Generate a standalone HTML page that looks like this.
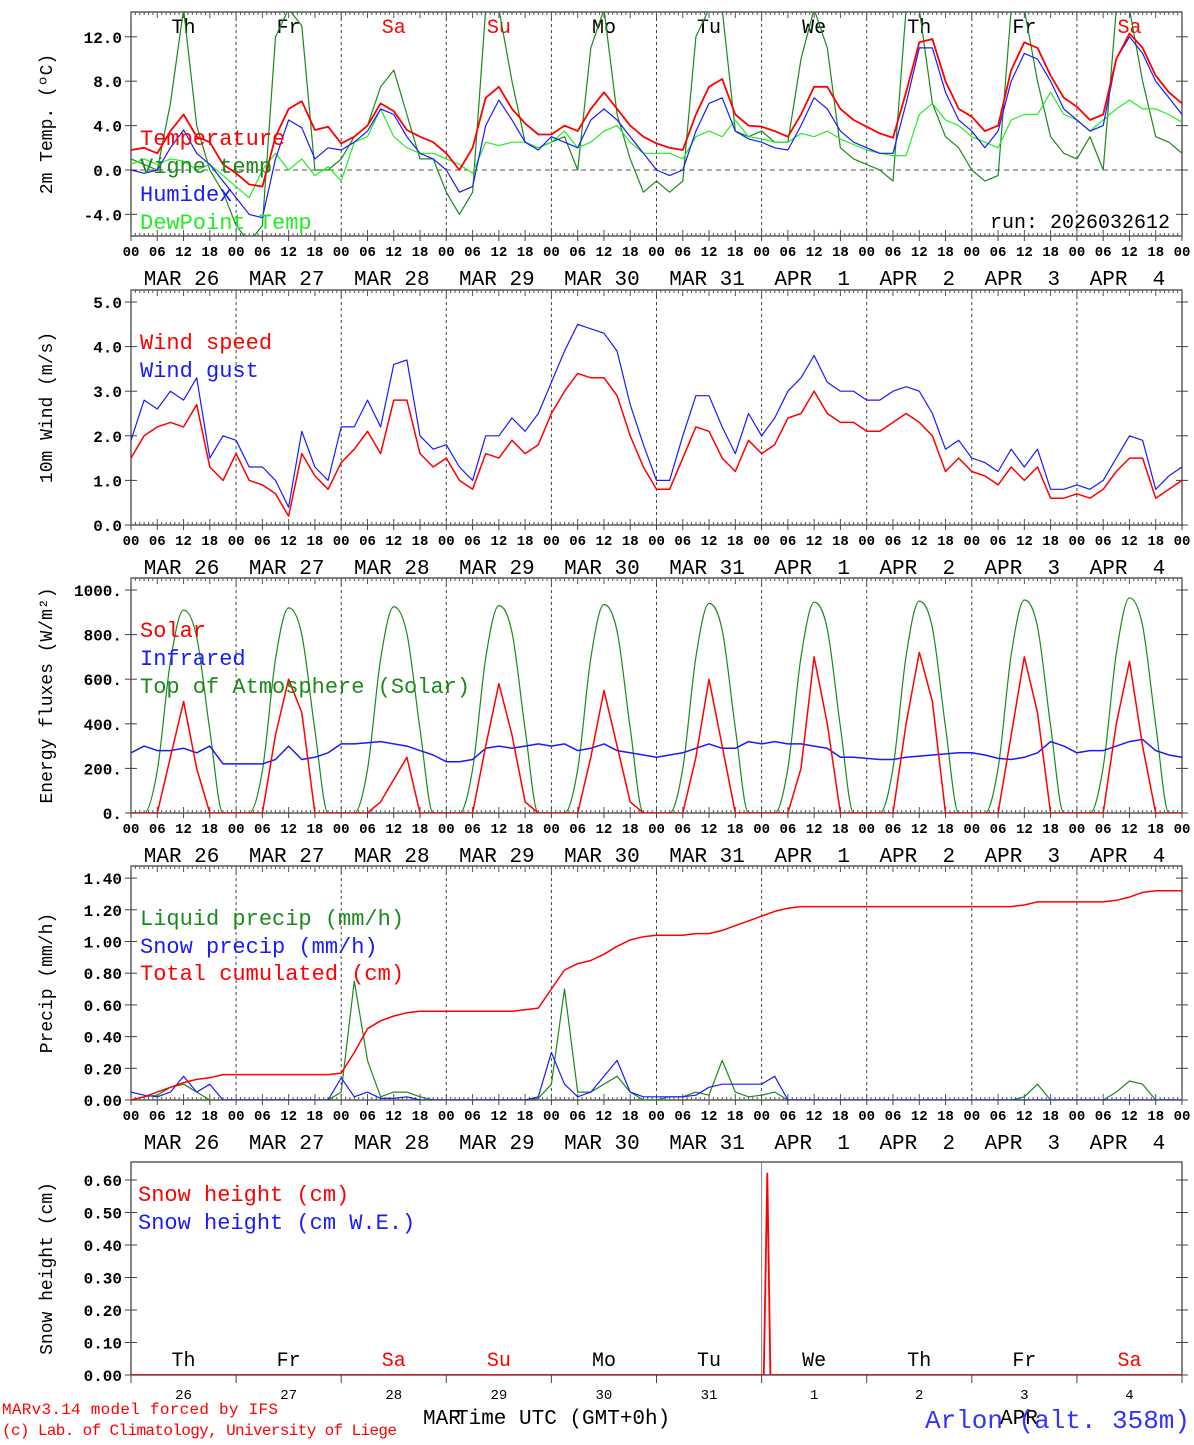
<!DOCTYPE html>
<html><head><meta charset="utf-8"><style>
body{margin:0;background:#fff;}
svg text{font-family:"Liberation Mono","DejaVu Sans Mono",monospace;}
</style></head><body>
<svg id="chart" width="1194" height="1440" xmlns="http://www.w3.org/2000/svg"></svg>
<script>
// ===== DATA (3-hourly, 81 points from MAR 26 00 UTC to APR 5 00 UTC) =====
const dayNames = ["Th","Fr","Sa","Su","Mo","Tu","We","Th","Fr","Sa"];
const dayNums = ["26","27","28","29","30","31","1","2","3","4"];
const dateLabels = ["MAR 26","MAR 27","MAR 28","MAR 29","MAR 30","MAR 31","APR  1","APR  2","APR  3","APR  4"];
const hourLabels = ["00","06","12","18"];
const tempTicks = [-4,0,4,8,12];
const windTicks = [0,1,2,3,4,5];
const fluxTicks = [0,200,400,600,800,1000];
const precipTicks = [0,0.2,0.4,0.6,0.8,1.0,1.2,1.4];
const snowTicks = [0,0.1,0.2,0.3,0.4,0.5,0.6];

const temperature = [1.8,2.0,1.5,3.5,5.0,3.0,2.5,0.5, -0.3,-1.3,-1.5,3.0,5.5,6.2,3.6,3.9, 2.4,3.0,4.0,6.0,5.3,3.6,3.0,2.5, 1.5,0.0,2.0,6.5,7.5,5.5,4.2,3.2, 3.2,4.0,3.5,5.5,7.0,5.5,4.0,3.0, 2.4,2.0,1.8,5.0,7.5,8.2,5.0,4.0, 3.9,3.5,3.0,5.0,7.5,7.5,5.5,4.5, 3.9,3.3,2.9,7.0,11.5,11.8,8.0,5.5, 4.8,3.5,4.0,9.0,11.5,11.0,8.5,6.5, 5.7,4.5,5.0,10.0,12.3,11.0,8.5,7.0,6.0];
const vigne = [1.0,0.5,0.0,6.0,14.5,4.0,0.0,-2.0, -5.0,-6.5,-5.0,12.0,14.5,13.0,0.0,0.0, 1.0,3.0,4.0,7.5,9.0,5.0,1.0,1.0, -2.0,-4.0,-2.0,14.5,14.5,8.0,2.5,2.0, 2.5,3.0,0.0,11.0,14.5,5.0,1.0,-2.0, -1.0,-2.0,-1.0,12.0,14.5,14.5,3.5,3.0, 3.5,2.5,2.5,10.0,14.5,11.0,2.0,1.0, 0.5,0.0,-1.0,14.5,14.5,6.0,3.0,2.0, 0.0,-1.0,-0.5,14.5,14.5,8.0,3.0,1.5, 1.0,3.0,0.0,14.5,14.5,8.0,3.0,2.5,1.5];
const humidex = [0.0,-0.3,0.0,2.0,3.6,1.5,0.5,-1.0, -2.5,-4.0,-4.3,1.0,4.5,3.8,1.0,2.0, 1.8,2.5,3.5,5.5,5.0,3.0,1.5,1.0, 0.0,-2.0,-1.5,4.0,6.3,4.5,2.5,1.8, 3.0,2.5,2.0,4.5,5.5,4.5,3.0,1.5, 0.0,-0.5,0.0,3.5,6.0,6.5,3.5,2.8, 2.5,2.0,1.8,4.0,6.5,5.5,3.5,2.5, 2.0,1.5,1.5,6.0,11.0,11.0,7.0,4.5, 3.5,2.0,3.5,8.0,10.5,10.0,8.0,5.5, 4.5,3.5,4.0,10.0,12.0,10.5,8.0,6.5,5.0];
const dewpoint = [0.5,1.0,0.5,1.0,0.8,0.0,0.5,-0.5, -1.5,-2.5,0.0,1.5,0.0,1.0,-0.5,0.3, -1.0,2.5,3.0,5.5,3.0,2.0,1.5,1.5, 1.0,0.5,-0.3,2.5,2.2,2.5,2.5,2.0, 2.5,3.5,2.0,2.5,3.5,4.0,2.5,1.5, 1.5,1.5,1.0,3.0,3.5,3.0,4.5,3.0, 2.8,2.5,2.5,3.3,3.0,3.5,2.8,2.3, 1.8,1.5,1.3,1.3,5.0,6.0,4.5,4.0, 3.0,2.5,2.0,4.5,5.0,5.0,7.0,5.0, 4.5,3.5,4.5,5.5,6.3,5.5,5.5,5.0,4.3];

const windSpeed = [1.5,2.0,2.2,2.3,2.2,2.7,1.3,1.0, 1.6,1.0,0.9,0.7,0.2,1.6,1.1,0.8, 1.4,1.7,2.1,1.6,2.8,2.8,1.6,1.3, 1.5,1.0,0.8,1.6,1.5,1.9,1.6,1.8, 2.5,3.0,3.4,3.3,3.3,2.9,2.0,1.3, 0.8,0.8,1.5,2.2,2.1,1.5,1.2,1.9, 1.6,1.8,2.4,2.5,3.0,2.5,2.3,2.3, 2.1,2.1,2.3,2.5,2.3,2.0,1.2,1.5, 1.2,1.1,0.9,1.3,1.0,1.3,0.6,0.6, 0.7,0.6,0.8,1.2,1.5,1.5,0.6,0.8,1.0];
const windGust = [1.9,2.8,2.6,3.0,2.8,3.3,1.5,2.0, 1.9,1.3,1.3,1.0,0.4,2.1,1.3,1.0, 2.2,2.2,2.8,2.2,3.6,3.7,2.0,1.7, 1.8,1.3,1.0,2.0,2.0,2.4,2.1,2.5, 3.2,3.9,4.5,4.4,4.3,3.9,2.7,1.8, 1.0,1.0,2.0,2.9,2.9,2.2,1.6,2.5, 2.0,2.4,3.0,3.3,3.8,3.2,3.0,3.0, 2.8,2.8,3.0,3.1,3.0,2.5,1.7,1.9, 1.5,1.4,1.2,1.7,1.3,1.7,0.8,0.8, 0.9,0.8,1.0,1.5,2.0,1.9,0.8,1.1,1.3];

const solar = [0,0,0,250,500,200,0,0, 0,0,0,350,600,450,0,0, 0,0,0,50,150,250,0,0, 0,0,0,300,580,350,50,0, 0,0,0,250,550,300,50,0, 0,0,0,250,600,300,0,0, 0,0,0,200,700,400,0,0, 0,0,0,400,720,500,0,0, 0,0,0,350,700,450,0,0, 0,0,0,400,680,300,0,0,0];
const infrared = [270,300,280,280,290,270,300,220, 220,220,220,240,300,240,250,270, 310,310,315,320,310,300,280,260, 230,230,240,290,300,290,300,310, 300,310,280,290,310,280,270,260, 250,260,270,290,310,290,290,320, 310,320,310,310,300,290,250,250, 245,240,240,250,255,260,265,270, 270,260,245,240,250,270,320,300, 270,280,280,300,320,330,280,260,250];
const toaSolar = [0,0,190,680,910,790,370,0, 0,0,190,690,920,800,370,0, 0,0,195,690,925,805,375,0, 0,0,195,695,930,810,375,0, 0,0,195,695,935,815,380,0, 0,0,200,700,940,820,380,0, 0,0,200,700,945,825,385,0, 0,0,200,705,950,830,385,0, 0,0,200,710,955,835,390,0, 0,0,205,715,965,840,395,0,0];

const cumulPrecip = [0,0.02,0.05,0.08,0.11,0.13,0.14,0.16, 0.16,0.16,0.16,0.16,0.16,0.16,0.16,0.16, 0.17,0.30,0.45,0.50,0.53,0.55,0.56,0.56, 0.56,0.56,0.56,0.56,0.56,0.56,0.57,0.58, 0.70,0.82,0.86,0.88,0.92,0.97,1.01,1.03, 1.04,1.04,1.04,1.05,1.05,1.07,1.10,1.13, 1.16,1.19,1.21,1.22,1.22,1.22,1.22,1.22, 1.22,1.22,1.22,1.22,1.22,1.22,1.22,1.22, 1.22,1.22,1.22,1.22,1.23,1.25,1.25,1.25, 1.25,1.25,1.25,1.26,1.28,1.31,1.32,1.32,1.32];
const liquidPrecip = [0,0.02,0.03,0.08,0.10,0.05,0,0, 0,0,0,0,0,0,0,0, 0.05,0.75,0.25,0.02,0.05,0.05,0.02,0, 0,0,0,0,0,0,0,0.01, 0.10,0.70,0.05,0.05,0.10,0.15,0.05,0, 0,0.02,0.02,0.05,0.03,0.25,0.05,0.02, 0.03,0.05,0,0,0,0,0,0, 0,0,0,0,0,0,0,0, 0,0,0,0,0.02,0.10,0,0, 0,0,0,0.05,0.12,0.10,0,0,0];
const snowPrecip = [0.05,0.03,0.02,0.05,0.15,0.05,0.10,0, 0,0,0,0,0,0,0,0, 0.14,0.02,0.05,0.01,0.01,0.02,0,0, 0,0,0,0,0,0,0,0.02, 0.30,0.10,0.02,0.05,0.15,0.25,0.05,0.02, 0.02,0.02,0.02,0.03,0.08,0.10,0.10,0.10, 0.10,0.15,0,0,0,0,0,0, 0,0,0,0,0,0,0,0, 0,0,0,0,0,0,0,0, 0,0,0,0,0,0,0,0,0];

const snowHours = [0,144.5,145.3,146,240];
const snowHeight = [0,0,0.62,0,0];
const snowWE = [0,0,0,0,0];

// ===== LAYOUT =====
const svg = document.getElementById('chart');
const NS = 'http://www.w3.org/2000/svg';
const X0 = 131, X1 = 1182;
function xOf(h){ return X0 + (X1 - X0) * h / 240; }
function mk(tag, attrs, parent){
  const e = document.createElementNS(NS, tag);
  for (const k in attrs) e.setAttribute(k, attrs[k]);
  (parent || svg).appendChild(e);
  return e;
}
function txt(s, x, y, size, fill, anchor, parent){
  const t = mk('text', {x:x, y:y, 'font-size':size, fill:fill||'#000', 'text-anchor':anchor||'start'}, parent);
  t.textContent = s;
  t.style.whiteSpace = 'pre';
  return t;
}
const panels = [
  {name:'temperature-panel', top:12, bottom:236, ymin:(170-236)/11.1, ymax:(170-12)/11.1, ticks:tempTicks, fmt:v=>v.toFixed(1), label:'2m Temp. (\u00BAC)', zero:true},
  {name:'wind-panel', top:290, bottom:525, ymin:0, ymax:235/44.6, ticks:windTicks, fmt:v=>v.toFixed(1), label:'10m Wind (m/s)'},
  {name:'flux-panel', top:578, bottom:813, ymin:0, ymax:235/0.223, ticks:fluxTicks, fmt:v=>v+'.', label:'Energy fluxes (W/m\u00B2)'},
  {name:'precip-panel', top:866, bottom:1100, ymin:0, ymax:234/158.5, ticks:precipTicks, fmt:v=>v.toFixed(2), label:'Precip (mm/h)'},
  {name:'snow-panel', top:1162, bottom:1375, ymin:0, ymax:213/325, ticks:snowTicks, fmt:v=>v.toFixed(2), label:'Snow height (cm)', last:true}
];
panels.forEach((p,pi)=>{
  p.y = v => p.bottom - (v - p.ymin) / (p.ymax - p.ymin) * (p.bottom - p.top);
  const g = mk('g', {});
  
  
  const cp = mk('clipPath', {id:'clip'+pi}, g);
  mk('rect', {x:X0, y:p.top, width:X1-X0, height:p.bottom-p.top}, cp);
  if (!p.last) {
    for (let d=1; d<10; d++) {
      const ln = mk('line', {x1:xOf(d*24), x2:xOf(d*24), y1:p.top, y2:p.bottom, stroke:'#444', 'stroke-width':1, 'stroke-dasharray':'3,3'}, g);
      
      
    }
  } else {
    mk('line', {x1:xOf(144), x2:xOf(144), y1:p.top, y2:p.bottom, stroke:'#888', 'stroke-width':1}, g);
  }
  if (p.zero) {
    const z = mk('line', {x1:X0, x2:X1, y1:p.y(0), y2:p.y(0), stroke:'#555', 'stroke-width':1, 'stroke-dasharray':'5,4'}, g);
    
    
  }
  mk('rect', {x:X0, y:p.top, width:X1-X0, height:p.bottom-p.top, fill:'none', stroke:'#444', 'stroke-width':1.3}, g);
  if (!p.last) {
    for (let h=0; h<=240; h++) {
      const len = h%6===0 ? 6 : 3;
      mk('line', {x1:xOf(h), x2:xOf(h), y1:p.top, y2:p.top+len, stroke:'#555', 'stroke-width':1}, g);
      mk('line', {x1:xOf(h), x2:xOf(h), y1:p.bottom, y2:p.bottom-len, stroke:'#555', 'stroke-width':1}, g);
    }
    for (let h=0; h<=240; h+=6) {
      mk('line', {x1:xOf(h), x2:xOf(h), y1:p.bottom, y2:p.bottom+5, stroke:'#444', 'stroke-width':1}, g);
      const t = txt(hourLabels[(h/6)%4], xOf(h), p.bottom+20, 14, '#000', 'middle', g);
      t.setAttribute('font-weight', 'bold');
      
      
    }
    for (let d=0; d<10; d++) {
      const t = txt(dateLabels[d], xOf(d*24+12)-2, p.bottom+49, 21, '#000', 'middle', g);
      
      
    }
  } else {
    for (let d=0; d<=10; d++) {
      mk('line', {x1:xOf(d*24), x2:xOf(d*24), y1:p.bottom, y2:p.bottom+8, stroke:'#444', 'stroke-width':1}, g);
    }
    for (let d=0; d<10; d++) {
      const t = txt(dayNums[d], xOf(d*24+12), 1399, 14, '#000', 'middle', g);
      
      
      const n = txt(dayNames[d], xOf(d*24+12), 1366, 20, (d===2||d===3||d===9)?'#f00':'#000', 'middle', g);
      
      
    }
  }
  p.ticks.forEach(v=>{
    const yy = p.y(v);
    mk('line', {x1:X0-6, x2:X0+6, y1:yy, y2:yy, stroke:'#444', 'stroke-width':1}, g);
    mk('line', {x1:X1-6, x2:X1+6, y1:yy, y2:yy, stroke:'#444', 'stroke-width':1}, g);
    const t = txt(p.fmt(v), X0-9, yy+6, 16, '#000', 'end', g);
    t.setAttribute('font-weight', 'bold');
    
    
  });
  const my = (p.top+p.bottom)/2;
  const yl = txt(p.label, 52, my, 18, '#000', 'middle', g);
  yl.setAttribute('transform', 'rotate(-90 52 '+my+')');
  
  
});

function series(p, vals, color, width, name, pi, hours){
  let d = '';
  vals.forEach((v,i)=>{
    const h = hours ? hours[i] : i*3;
    d += (i? 'L':'M') + xOf(h).toFixed(1) + ',' + p.y(v).toFixed(1);
  });
  const path = mk('path', {d:d, fill:'none', stroke:color, 'stroke-width':width, 'clip-path':'url(#clip'+pi+')', 'stroke-linejoin':'round'});
  
  
}
function smoothSeries(p, vals, color, width, name, pi){
  const n = vals.length, xs = vals.map((v,i)=>xOf(i*3)), ys = vals.map(v=>p.y(v));
  const dl = [], m = [];
  for (let i=0;i<n-1;i++) dl.push((ys[i+1]-ys[i])/(xs[i+1]-xs[i]));
  for (let i=0;i<n;i++){
    if (i===0) m.push(dl[0]); else if (i===n-1) m.push(dl[n-2]);
    else m.push(dl[i-1]*dl[i]<=0 ? 0 : (dl[i-1]+dl[i])/2);
  }
  for (let i=0;i<n-1;i++){
    if (dl[i]===0){ m[i]=0; m[i+1]=0; continue; }
    const a=m[i]/dl[i], b=m[i+1]/dl[i], s=a*a+b*b;
    if (s>9){ const t=3/Math.sqrt(s); m[i]=t*a*dl[i]; m[i+1]=t*b*dl[i]; }
  }
  let d = 'M'+xs[0]+','+ys[0];
  for (let i=0;i<n-1;i++){
    const hx=(xs[i+1]-xs[i])/3;
    d += 'C'+(xs[i]+hx)+','+(ys[i]+m[i]*hx)+' '+(xs[i+1]-hx)+','+(ys[i+1]-m[i+1]*hx)+' '+xs[i+1]+','+ys[i+1];
  }
  const path = mk('path', {d:d, fill:'none', stroke:color, 'stroke-width':width, 'clip-path':'url(#clip'+pi+')'});
  
  
}

const P = panels;
dayNames.forEach((n,d)=>{
  const t = txt(n, xOf(d*24+12), 33, 20, (d===2||d===3||d===9)?'#f00':'#000', 'middle');
  
  
});
series(P[0], vigne, '#1a8a1a', 1.2, 'vigne-temp-line', 0);
series(P[0], dewpoint, '#22ee22', 1.2, 'dewpoint-line', 0);
series(P[0], humidex, '#1a1aff', 1.2, 'humidex-line', 0);
series(P[0], temperature, '#ff0000', 1.8, 'temperature-line', 0);
series(P[1], windGust, '#1a1aff', 1.2, 'wind-gust-line', 1);
series(P[1], windSpeed, '#ff0000', 1.5, 'wind-speed-line', 1);
smoothSeries(P[2], toaSolar, '#1a8a1a', 1.2, 'toa-solar-line', 2);
series(P[2], infrared, '#1a1aff', 1.5, 'infrared-line', 2);
series(P[2], solar, '#ff0000', 1.5, 'solar-line', 2);
series(P[3], liquidPrecip, '#1a8a1a', 1.2, 'liquid-precip-line', 3);
series(P[3], snowPrecip, '#1a1aff', 1.2, 'snow-precip-line', 3);
series(P[3], cumulPrecip, '#ff0000', 1.5, 'cumulated-precip-line', 3);
series(P[4], snowWE, '#1a1aff', 1.2, 'snow-we-line', 4, snowHours);
series(P[4], snowHeight, '#ff0000', 1.8, 'snow-height-line', 4, snowHours);

function legend(s, x, y, color){
  const t = txt(s, x, y, 22, color, 'start');
  
  
}
legend('Temperature', 140, 145, '#ff0000');
legend('Vigne temp', 140, 173, '#1a8a1a');
legend('Humidex', 140, 201, '#1a1aff');
legend('DewPoint Temp', 140, 229, '#22ee22');
legend('Wind speed', 140, 349, '#ff0000');
legend('Wind gust', 140, 377, '#1a1aff');
legend('Solar', 140, 637, '#ff0000');
legend('Infrared', 140, 665, '#1a1aff');
legend('Top of Atmosphere (Solar)', 140, 693, '#1a8a1a');
legend('Liquid precip (mm/h)', 140, 925, '#1a8a1a');
legend('Snow precip (mm/h)', 140, 953, '#1a1aff');
legend('Total cumulated (cm)', 140, 980, '#ff0000');
legend('Snow height (cm)', 138, 1201, '#ff0000');
legend('Snow height (cm W.E.)', 138, 1229, '#1a1aff');

const run = txt('run: 2026032612', 1170, 228, 20, '#000', 'end');


const m1 = txt('MAR', 423, 1424, 21, '#000', 'start');


const xt = txt('Time UTC (GMT+0h)', 456, 1424, 21, '#000', 'start');


const m2 = txt('APR', 1000, 1424, 21, '#000', 'start');


const c1 = txt('MARv3.14 model forced by IFS', 2, 1414, 16, '#ff0000', 'start');
c1.setAttribute('textLength', '276');


const c2 = txt('(c) Lab. of Climatology, University of Liege', 2, 1435, 16, '#ff0000', 'start');
c2.setAttribute('textLength', '395');


const st = txt('Arlon (alt. 358m)', 925, 1428, 26, '#3333ff', 'start');
st.setAttribute('textLength', '265');


</script>
</body></html>
